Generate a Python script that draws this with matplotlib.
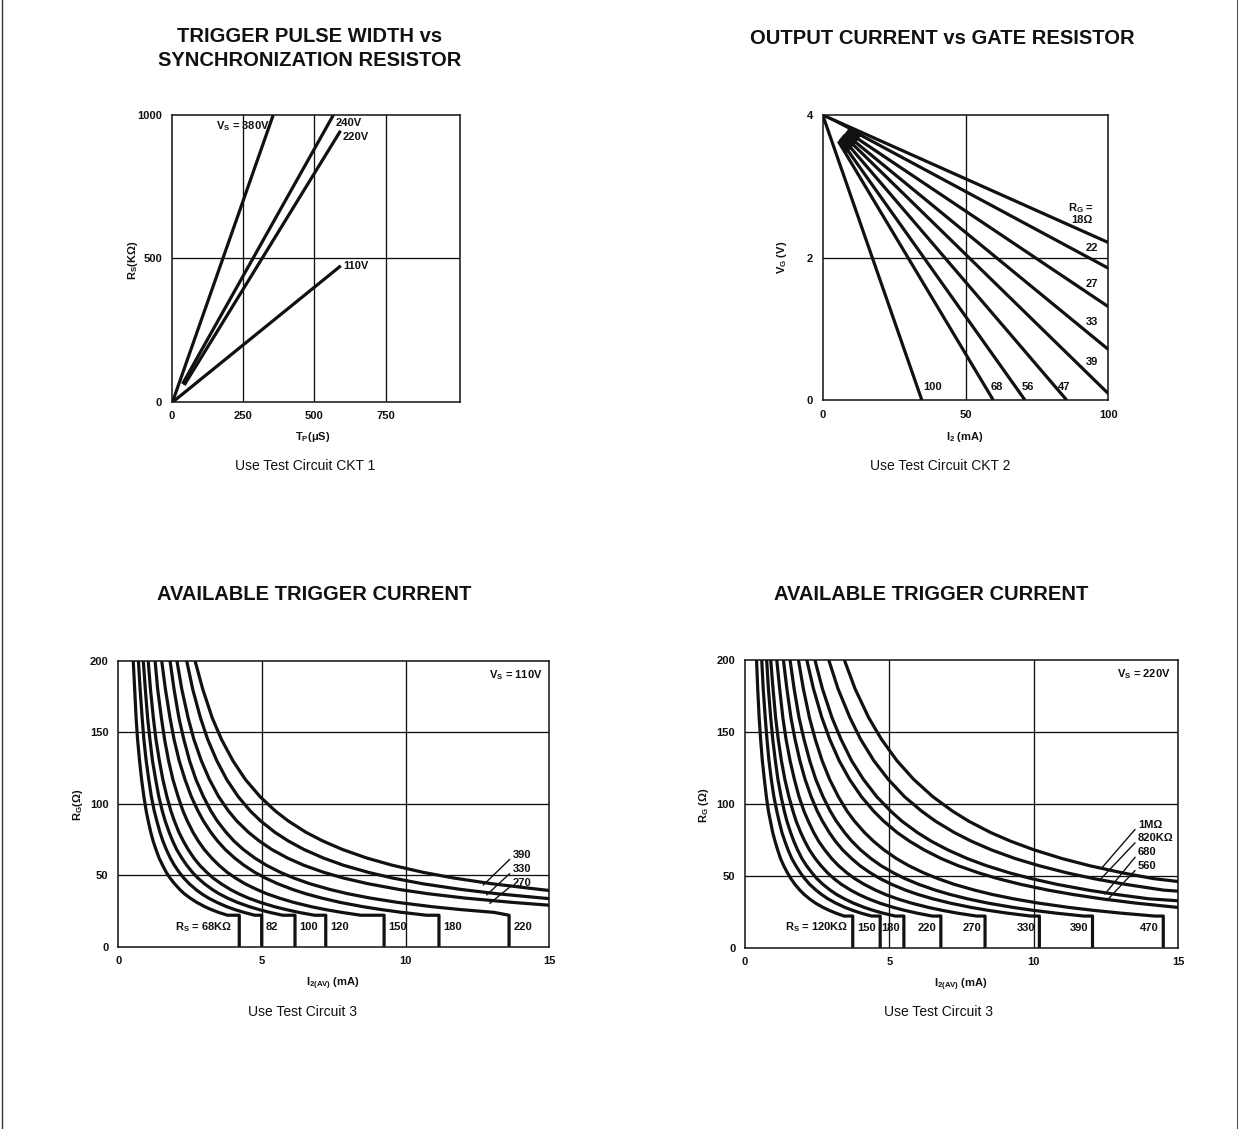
import matplotlib
matplotlib.use("Agg")
import matplotlib.pyplot as plt
from matplotlib.lines import Line2D

plt.rcParams['font.family'] = ['Liberation Sans', 'DejaVu Sans']
plt.rcParams['mathtext.fontset'] = 'custom'
plt.rcParams['mathtext.rm'] = 'Liberation Sans'
plt.rcParams['mathtext.bf'] = 'Liberation Sans:bold'
plt.rcParams['mathtext.it'] = 'Liberation Sans:italic'

# ---------------------------------------------------------------- data
# Trigger pulse width vs synchronization resistor (one straight line per Vs)
TP_VS = ["380V", "240V", "220V", "110V"]
TP_START_US = [5, 38, 44, 5]
TP_START_K = [5, 62, 58, 0]
TP_END_US = [356, 567, 592, 593]
TP_END_K = [1000, 1000, 945, 474]
TP_XTICKS = [0, 250, 500, 750]
TP_YTICKS = [0, 500, 1000]

# Output current vs gate resistor (load lines from the 4 V source)
OC_RG = ["18", "22", "27", "33", "39", "47", "56", "68", "100"]
OC_START_MA = [0, 9.0, 8.4, 7.8, 7.2, 6.6, 6.0, 5.5, 0]
OC_START_V = [4.0, 3.81, 3.77, 3.74, 3.72, 3.69, 3.66, 3.63, 4.0]
OC_END_MA = [100, 100, 100, 100, 100, 85.4, 70.8, 59.7, 34.7]
OC_END_V = [2.21, 1.85, 1.31, 0.71, 0.09, 0, 0, 0, 0]
OC_XTICKS = [0, 50, 100]
OC_YTICKS = [0, 2, 4]

# Available trigger current: gate resistance levels shared by both families
RG_LEVELS = [200, 180, 160, 145, 130, 117, 105, 95, 88, 80, 74, 68, 62,
             57, 52, 48, 44, 40, 37, 34, 31, 28, 26, 24, 22]
FLAT_RG = 22
AT_XTICKS = [0, 5, 10, 15]
AT_YTICKS = [0, 50, 100, 150, 200]

# Vs = 110 V family: current (mA) at each RG level
LO_RS = ["68K", "82", "100", "120", "150", "180", "220", "270", "330", "390"]
LO_I = [
    [0.52, 0.57, 0.62, 0.67, 0.74, 0.81, 0.89, 0.97, 1.04, 1.13, 1.21, 1.31, 1.42,
     1.54, 1.67, 1.80, 1.96, 2.14, 2.30, 2.50, 2.73, 3.01, 3.23, 3.49, 3.80],
    [0.70, 0.76, 0.83, 0.89, 0.97, 1.06, 1.15, 1.25, 1.34, 1.45, 1.55, 1.67, 1.81,
     1.95, 2.12, 2.28, 2.47, 2.70, 2.90, 3.14, 3.43, 3.77, 4.05, 4.37, 4.75],
    [0.87, 0.94, 1.02, 1.10, 1.19, 1.30, 1.41, 1.53, 1.63, 1.77, 1.89, 2.03, 2.21,
     2.38, 2.58, 2.77, 3.00, 3.27, 3.51, 3.80, 4.14, 4.56, 4.89, 5.27, 5.72],
    [1.04, 1.12, 1.22, 1.31, 1.43, 1.55, 1.69, 1.83, 1.95, 2.11, 2.26, 2.43, 2.63,
     2.83, 3.08, 3.30, 3.58, 3.90, 4.19, 4.53, 4.94, 5.43, 5.83, 6.28, 6.83],
    [1.28, 1.37, 1.50, 1.61, 1.75, 1.90, 2.08, 2.25, 2.40, 2.60, 2.78, 2.99, 3.25,
     3.50, 3.79, 4.08, 4.41, 4.82, 5.17, 5.60, 6.10, 6.71, 7.20, 7.77, 8.44],
    [1.51, 1.64, 1.80, 1.94, 2.12, 2.32, 2.54, 2.77, 2.96, 3.22, 3.45, 3.72, 4.05,
     4.37, 4.75, 5.12, 5.55, 6.07, 6.53, 7.08, 7.72, 8.51, 9.14, 9.87, 10.73],
    [1.80, 1.94, 2.11, 2.28, 2.48, 2.70, 2.96, 3.22, 3.44, 3.75, 4.02, 4.35, 4.75,
     5.15, 5.64, 6.11, 6.67, 7.37, 8.00, 8.77, 9.72, 10.91, 11.89, 13.08],
    [2.04, 2.21, 2.43, 2.63, 2.89, 3.17, 3.49, 3.83, 4.12, 4.53, 4.90, 5.34, 5.89,
     6.45, 7.15, 7.84, 8.70, 9.78, 10.80, 12.07, 13.71],
    [2.38, 2.59, 2.86, 3.11, 3.43, 3.77, 4.17, 4.59, 4.95, 5.45, 5.91, 6.46, 7.14,
     7.83, 8.70, 9.55, 10.60, 11.94, 13.20, 14.78],
    [2.67, 2.94, 3.27, 3.59, 3.99, 4.42, 4.93, 5.46, 5.91, 6.53, 7.11, 7.80, 8.65,
     9.53, 10.61, 11.68, 13.01, 14.69],
]
LO_DROP = [4.21, 4.99, 6.15, 7.22, 9.25, 11.16, 13.6, None, None, None]
LO_EDGE = [None, None, None, None, None, None, None, 29.0, 33.6, 39.3]

# Vs = 220 V family
HI_RS = ["120K", "150", "180", "220", "270", "330", "390", "470",
         "560", "680", "820K", "1M"]
HI_I = [
    [0.40, 0.44, 0.49, 0.54, 0.60, 0.67, 0.74, 0.81, 0.88, 0.96, 1.04, 1.13, 1.23,
     1.34, 1.47, 1.59, 1.73, 1.90, 2.05, 2.23, 2.44, 2.70, 2.91, 3.15, 3.43],
    [0.58, 0.63, 0.70, 0.76, 0.83, 0.91, 1.00, 1.10, 1.18, 1.28, 1.38, 1.49, 1.62,
     1.76, 1.92, 2.07, 2.24, 2.46, 2.65, 2.87, 3.14, 3.46, 3.72, 4.02, 4.38],
    [0.75, 0.81, 0.89, 0.96, 1.05, 1.14, 1.25, 1.36, 1.45, 1.58, 1.69, 1.82, 1.97,
     2.13, 2.32, 2.49, 2.70, 2.95, 3.17, 3.44, 3.75, 4.13, 4.43, 4.78, 5.20],
    [0.89, 0.97, 1.06, 1.15, 1.26, 1.38, 1.52, 1.66, 1.77, 1.93, 2.07, 2.23, 2.43,
     2.63, 2.86, 3.08, 3.34, 3.66, 3.94, 4.27, 4.66, 5.14, 5.52, 5.96, 6.48],
    [1.10, 1.20, 1.31, 1.42, 1.56, 1.71, 1.87, 2.04, 2.19, 2.38, 2.55, 2.76, 3.00,
     3.24, 3.53, 3.80, 4.13, 4.52, 4.86, 5.27, 5.76, 6.35, 6.82, 7.36, 8.01],
    [1.33, 1.45, 1.59, 1.73, 1.90, 2.08, 2.29, 2.50, 2.68, 2.92, 3.13, 3.38, 3.69,
     3.98, 4.34, 4.68, 5.08, 5.56, 5.99, 6.50, 7.10, 7.83, 8.41, 9.09, 9.89],
    [1.56, 1.70, 1.87, 2.04, 2.24, 2.45, 2.70, 2.95, 3.16, 3.45, 3.70, 4.00, 4.36,
     4.71, 5.14, 5.54, 6.02, 6.59, 7.10, 7.70, 8.41, 9.28, 9.97, 10.78, 11.73],
    [1.85, 2.02, 2.23, 2.43, 2.67, 2.93, 3.23, 3.53, 3.79, 4.14, 4.45, 4.81, 5.24,
     5.67, 6.19, 6.68, 7.25, 7.95, 8.56, 9.29, 10.16, 11.21, 12.05, 13.03, 14.18],
    [2.14, 2.37, 2.66, 2.93, 3.26, 3.62, 4.03, 4.45, 4.80, 5.27, 5.70, 6.20, 6.79,
     7.38, 8.09, 8.76, 9.55, 10.50, 11.35, 12.34, 13.53, 14.98],
    [2.42, 2.68, 3.01, 3.32, 3.69, 4.10, 4.56, 5.04, 5.43, 5.97, 6.45, 7.02, 7.69,
     8.36, 9.16, 9.92, 10.81, 11.89, 12.85, 13.98],
    [2.90, 3.22, 3.63, 4.00, 4.46, 4.96, 5.52, 6.11, 6.59, 7.25, 7.84, 8.53, 9.35,
     10.18, 11.15, 12.08, 13.18, 14.50],
    [3.44, 3.81, 4.28, 4.72, 5.26, 5.84, 6.50, 7.18, 7.74, 8.51, 9.20, 10.01, 10.97,
     11.93, 13.07, 14.15],
]
HI_DROP = [3.73, 4.68, 5.50, 6.78, 8.31, 10.19, 12.03, 14.48, None, None, None, None]
HI_EDGE = [None] * 8 + [27.95, 32.6, 39.3, 46.0]

# ---------------------------------------------------------------- figure
W, H = 1239, 1129
fig = plt.figure(figsize=(W / 100, H / 100), dpi=100)
INK = '#111111'
CURVE_LW = 2.3
GRID_LW = 0.95
TICK_FS = 8
LABEL_FS = 8
TITLE_FS = 14.5


def fx(px):
    return px / W


def fy(py):
    return 1 - py / H


def ftext(px, py, s, **kw):
    kw.setdefault('ha', 'center')
    kw.setdefault('va', 'center')
    kw.setdefault('color', INK)
    fig.text(fx(px), fy(py), s, **kw)


def make_axes(box, xlim, ylim, xticks, yticks, xgrid, ygrid):
    l, t, r, b = box
    ax = fig.add_axes([fx(l), fy(b), fx(r) - fx(l), fy(t) - fy(b)])
    ax.set_xlim(*xlim)
    ax.set_ylim(*ylim)
    ax.set_xticks(xticks)
    ax.set_yticks(yticks)
    ax.set_xticklabels([str(v) for v in xticks], fontweight='bold', fontsize=TICK_FS)
    ax.set_yticklabels([str(v) for v in yticks], fontweight='bold', fontsize=TICK_FS)
    ax.tick_params(length=0, pad=7, colors=INK)
    for s in ax.spines.values():
        s.set_linewidth(1.1)
        s.set_color(INK)
    for g in xgrid:
        ax.axvline(g, color=INK, lw=GRID_LW, zorder=1)
    for g in ygrid:
        ax.axhline(g, color=INK, lw=GRID_LW, zorder=1)
    return ax


# page borders
fig.add_artist(Line2D([fx(1.5), fx(1.5)], [0, 1], color='#333333', lw=1.0))
fig.add_artist(Line2D([fx(1237), fx(1237)], [0, 1], color='#555555', lw=0.8))

# ---------------------------------------------------------------- top left
ax1 = make_axes((171.7, 115, 460, 401.7), (0, 1011), (0, 1000),
                TP_XTICKS, TP_YTICKS, [250, 500, 750], [500])
for x0, y0, x1, y1 in zip(TP_START_US, TP_START_K, TP_END_US, TP_END_K):
    ax1.plot([x0, x1], [y0, y1], color=INK, lw=CURVE_LW, solid_capstyle='butt', zorder=3)
ax1.text(345, 962, r"V$_\mathbf{S}$ = 380V", ha='right', va='center',
         fontsize=LABEL_FS, fontweight='bold', color=INK)
ax1.text(575, 972, "240V", ha='left', va='center', fontsize=LABEL_FS, fontweight='bold', color=INK)
ax1.text(598, 924, "220V", ha='left', va='center', fontsize=LABEL_FS, fontweight='bold', color=INK)
ax1.text(600, 472, "110V", ha='left', va='center', fontsize=LABEL_FS, fontweight='bold', color=INK)

ftext(310, 37, "TRIGGER PULSE WIDTH vs", fontsize=TITLE_FS, fontweight='bold')
ftext(310, 61, "SYNCHRONIZATION RESISTOR", fontsize=TITLE_FS, fontweight='bold')
ftext(133, 260, r"R$_\mathbf{S}$(KΩ)", rotation=90, fontsize=LABEL_FS, fontweight='bold')
ftext(313, 437, r"T$_\mathbf{P}$(μS)", fontsize=LABEL_FS, fontweight='bold')
ftext(305, 466, "Use Test Circuit CKT 1", fontsize=10)

# ---------------------------------------------------------------- top right
ax2 = make_axes((822.7, 115, 1108.3, 400), (0, 100), (0, 4),
                OC_XTICKS, OC_YTICKS, [50], [2])
for x0, y0, x1, y1 in zip(OC_START_MA, OC_START_V, OC_END_MA, OC_END_V):
    ax2.plot([x0, x1], [y0, y1], color=INK, lw=CURVE_LW, solid_capstyle='butt', zorder=3)
# dark wedge where the inner load lines fan out
inner = range(1, 8)
wedge_x = [OC_START_MA[i] for i in inner]
wedge_y = [OC_START_V[i] for i in inner]
k_lo, k_hi = 7, 1
t_lo, t_hi = 0.05, 0.05
wedge_x += [OC_START_MA[k_lo] + t_lo * (OC_END_MA[k_lo] - OC_START_MA[k_lo]),
            OC_START_MA[k_hi] + t_hi * (OC_END_MA[k_hi] - OC_START_MA[k_hi])]
wedge_y += [OC_START_V[k_lo] + t_lo * (OC_END_V[k_lo] - OC_START_V[k_lo]),
            OC_START_V[k_hi] + t_hi * (OC_END_V[k_hi] - OC_START_V[k_hi])]
ax2.fill(wedge_x, wedge_y, color=INK, lw=0, zorder=3)
ax2.plot([0, OC_START_MA[1]], [4, OC_START_V[1]], color=INK, lw=1.2, zorder=3)

ax2.text(95, 2.69, r"R$_\mathbf{G}$ =", ha='right', va='center', fontsize=LABEL_FS, fontweight='bold', color=INK)
ax2.text(94.5, 2.53, "18Ω", ha='right', va='center', fontsize=LABEL_FS, fontweight='bold', color=INK)
for lab, v in zip(OC_RG[1:5], [2.14, 1.63, 1.10, 0.54]):
    ax2.text(96.4, v, lab, ha='right', va='center', fontsize=LABEL_FS, fontweight='bold', color=INK)
for lab, x in zip(OC_RG[5:], [82.4, 69.7, 58.8, 35.2]):
    ax2.text(x, 0.18, lab, ha='left', va='center', fontsize=LABEL_FS, fontweight='bold', color=INK)

ftext(942, 38, "OUTPUT CURRENT vs GATE RESISTOR", fontsize=TITLE_FS, fontweight='bold')
ftext(782, 257, r"V$_\mathbf{G}$ (V)", rotation=90, fontsize=LABEL_FS, fontweight='bold')
ftext(965, 437, r"I$_\mathbf{2}$ (mA)", fontsize=LABEL_FS, fontweight='bold')
ftext(940, 466, "Use Test Circuit CKT 2", fontsize=10)


# ---------------------------------------------------------------- bottom
def draw_family(ax, currents, drops, edges, xmax):
    for cur, drop, edge in zip(currents, drops, edges):
        xs = list(cur)
        ys = list(RG_LEVELS[:len(cur)])
        if drop is not None:
            xs += [drop, drop]
            ys += [FLAT_RG, 0]
        else:
            xs += [xmax]
            ys += [edge]
        ax.plot(xs, ys, color=INK, lw=CURVE_LW, solid_joinstyle='round',
                solid_capstyle='butt', zorder=3)


def drop_label(ax, text, x, side):
    dx = 3 if side == 'left' else -3
    ax.annotate(text, xy=(x, 14), xytext=(dx, 0), textcoords='offset points',
                ha=side, va='center', fontsize=LABEL_FS, fontweight='bold', color=INK)


def callout(ax, text, xy, xytext):
    ax.annotate(text, xy=xy, xytext=xytext, ha='left', va='center',
                fontsize=LABEL_FS, fontweight='bold', color=INK,
                arrowprops=dict(arrowstyle='-', lw=1.0, color=INK,
                                shrinkA=0, shrinkB=0, relpos=(0, 0.35)))


# Vs = 110 V
ax3 = make_axes((118.3, 660.7, 549.3, 946.7), (0, 15), (0, 200),
                AT_XTICKS, AT_YTICKS, [5, 10], [50, 100, 150])
draw_family(ax3, LO_I, LO_DROP, LO_EDGE, 15)
drop_label(ax3, r"R$_\mathbf{S}$ = 68KΩ", LO_DROP[0] - 0.1, 'right')
for lab, d in zip(LO_RS[1:7], LO_DROP[1:7]):
    drop_label(ax3, lab, d, 'left')
callout(ax3, LO_RS[9], (12.70, 43.1), (13.72, 64))
callout(ax3, LO_RS[8], (12.82, 36.2), (13.72, 54))
callout(ax3, LO_RS[7], (12.93, 30.3), (13.72, 44.3))
ax3.text(14.75, 190, r"V$_\mathbf{S}$ = 110V", ha='right', va='center',
         fontsize=LABEL_FS, fontweight='bold', color=INK)

ftext(314, 594, "AVAILABLE TRIGGER CURRENT", fontsize=TITLE_FS, fontweight='bold')
ftext(78, 805, r"R$_\mathbf{G}$(Ω)", rotation=90, fontsize=LABEL_FS, fontweight='bold')
ftext(333, 984, r"I$_\mathbf{2(AV)}$ (mA)", fontsize=LABEL_FS, fontweight='bold')
ftext(302, 1012, "Use Test Circuit 3", fontsize=10)

# Vs = 220 V
ax4 = make_axes((745, 660, 1178.3, 947.7), (0, 15), (0, 200),
                AT_XTICKS, AT_YTICKS, [5, 10], [50, 100, 150])
draw_family(ax4, HI_I, HI_DROP, HI_EDGE, 15)
drop_label(ax4, r"R$_\mathbf{S}$ = 120KΩ", HI_DROP[0], 'right')
for lab, d in zip(HI_RS[1:8], HI_DROP[1:8]):
    drop_label(ax4, lab, d, 'right')
callout(ax4, "1MΩ", (12.34, 55.2), (13.6, 85.5))
callout(ax4, "820KΩ", (12.26, 46.6), (13.6, 76))
callout(ax4, HI_RS[9], (12.46, 37.3), (13.6, 66.3))
callout(ax4, HI_RS[8], (12.52, 32.7), (13.6, 56.8))
ax4.text(14.75, 190, r"V$_\mathbf{S}$ = 220V", ha='right', va='center',
         fontsize=LABEL_FS, fontweight='bold', color=INK)

ftext(931, 594, "AVAILABLE TRIGGER CURRENT", fontsize=TITLE_FS, fontweight='bold')
ftext(704, 805, r"R$_\mathbf{G}$ (Ω)", rotation=90, fontsize=LABEL_FS, fontweight='bold')
ftext(961, 985, r"I$_\mathbf{2(AV)}$ (mA)", fontsize=LABEL_FS, fontweight='bold')
ftext(939, 1012, "Use Test Circuit 3", fontsize=10)

fig.savefig("out.png", dpi=100, facecolor='white')
